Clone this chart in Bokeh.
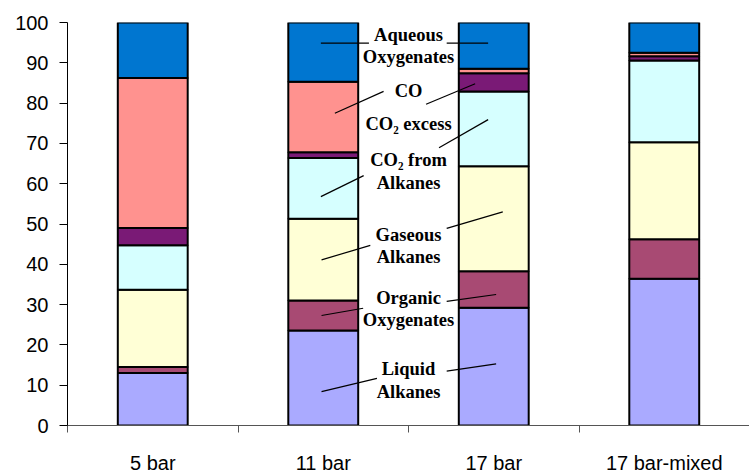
from bokeh.plotting import figure
from bokeh.models import ColumnDataSource, FixedTicker
from bokeh.core.properties import value
from bokeh.embed import file_html
from bokeh.resources import INLINE

categories = ["5 bar", "11 bar", "17 bar", "17 bar-mixed"]
series = ["Liquid Alkanes", "Organic Oxygenates", "Gaseous Alkanes",
          "CO2 from Alkanes", "CO2 excess", "CO", "Aqueous Oxygenates"]
liquid_alkanes = [13.0, 23.6, 29.2, 36.4]
organic_oxygenates = [1.5, 7.4, 9.1, 9.8]
gaseous_alkanes = [19.2, 20.3, 26.0, 24.1]
co2_from_alkanes = [11.0, 15.1, 18.6, 20.3]
co2_excess = [4.3, 1.4, 4.5, 1.0]
co = [37.2, 17.5, 1.1, 0.9]
aqueous_oxygenates = [13.8, 14.7, 11.5, 7.5]
colors = ["#AAAAFF", "#A84A73", "#FFFFD6", "#D6FFFF", "#7A1A76", "#FF928F", "#0076D0"]

# annotation text (centered between 2nd and 3rd bar)
label_lines = ["Aqueous", "Oxygenates", "CO", "CO\u2082 excess", "CO\u2082 from", "Alkanes",
               "Gaseous", "Alkanes", "Organic", "Oxygenates", "Liquid", "Alkanes"]
label_y = [96.8, 91.4, 83.1, 74.9, 65.8, 60.2, 47.3, 41.9, 31.7, 26.3, 14.1, 8.4]
label_x = [2.0] * len(label_lines)

# leader lines (data coordinates)
lead_x0 = [1.486, 2.224, 1.568, 2.103, 2.179, 1.737, 1.776, 2.224, 1.734, 2.224, 1.815, 2.224]
lead_y0 = [94.9, 94.9, 77.5, 79.7, 68.9, 62.0, 44.7, 48.9, 29.1, 30.8, 11.7, 13.5]
lead_x1 = [1.768, 2.467, 1.854, 2.391, 2.467, 1.486, 1.490, 2.553, 1.490, 2.514, 1.490, 2.514]
lead_y1 = [94.9, 94.9, 82.9, 84.8, 75.9, 56.8, 41.1, 53.0, 27.3, 32.5, 8.4, 15.3]

x_pos = [i + 0.5 for i in range(len(categories))]
data = {"x": x_pos}
for name, vals in zip(series, [liquid_alkanes, organic_oxygenates, gaseous_alkanes,
                               co2_from_alkanes, co2_excess, co, aqueous_oxygenates]):
    data[name] = vals
source = ColumnDataSource(data)

p = figure(frame_width=682, frame_height=403, x_range=(0, 4), y_range=(0, 100),
           output_backend="svg", toolbar_location=None, tools="",
           min_border_left=67, min_border_top=22, min_border_right=0, min_border_bottom=0)
p.background_fill_color = "white"
p.border_fill_color = "white"
p.outline_line_color = None
p.xgrid.visible = False
p.ygrid.visible = False

p.vbar_stack(series, x="x", width=0.41, source=source, fill_color=colors,
             line_color="black", line_width=2)

p.segment(x0=lead_x0, y0=lead_y0, x1=lead_x1, y1=lead_y1, line_color="black", line_width=1.2)
p.text(x=label_x, y=label_y, text=label_lines, text_align="center", text_baseline="middle",
       text_font=value("Liberation Serif"), text_font_style="bold", text_font_size="18.5px",
       text_color="black")

# y axis
p.yaxis.ticker = FixedTicker(ticks=list(range(0, 101, 10)))
p.yaxis.axis_line_color = "black"
p.yaxis.major_tick_line_color = "black"
p.yaxis.major_tick_out = 8
p.yaxis.major_tick_in = 0
p.yaxis.minor_tick_line_color = None
p.yaxis.major_label_text_font = "Liberation Sans"
p.yaxis.major_label_text_font_size = "20px"
p.yaxis.major_label_text_color = "black"
p.yaxis.major_label_standoff = 11

# x axis
p.xaxis.ticker = FixedTicker(ticks=x_pos, minor_ticks=[0, 1, 2, 3, 4])
p.xaxis.major_label_overrides = {x: c for x, c in zip(x_pos, categories)}
p.xaxis.axis_line_color = "#555555"
p.xaxis.major_tick_line_color = None
p.xaxis.major_tick_out = 0
p.xaxis.minor_tick_line_color = "#555555"
p.xaxis.minor_tick_out = 7
p.xaxis.minor_tick_in = 0
p.xaxis.major_label_text_font = "Liberation Sans"
p.xaxis.major_label_text_font_size = "20px"
p.xaxis.major_label_text_color = "black"
p.xaxis.major_label_standoff = 19

open("out.html", "w").write(file_html(p, INLINE))
